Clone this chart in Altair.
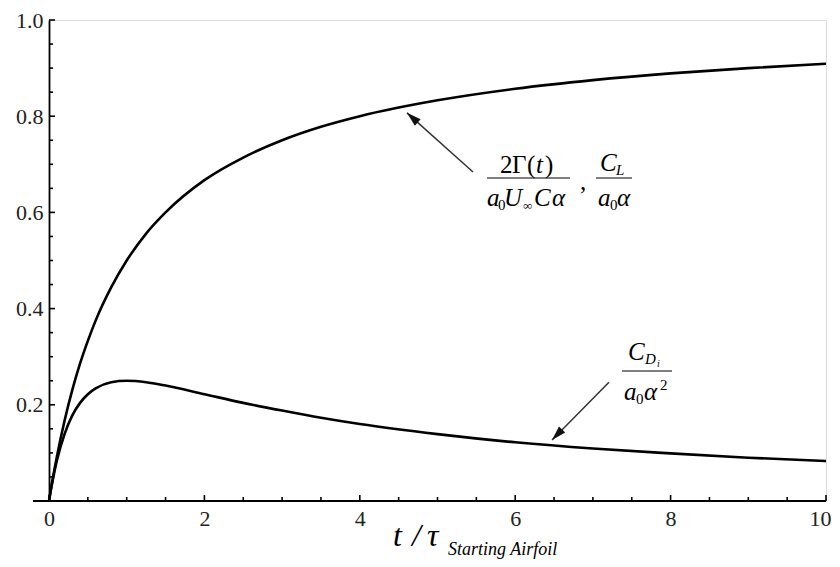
import altair as alt
import pandas as pd

# ---- data ----
t_vals = [0, 0.02, 0.05, 0.1, 0.2, 0.3, 0.4, 0.5, 0.6, 0.8, 1, 1.25, 1.5, 2, 2.5,
          3, 3.5, 4, 5, 6, 7, 8, 9, 10]
lift_vals = [0, 0.020, 0.048, 0.091, 0.167, 0.231, 0.286, 0.333, 0.375, 0.444, 0.5,
             0.556, 0.6, 0.667, 0.714, 0.75, 0.778, 0.8, 0.833, 0.857, 0.875, 0.889,
             0.9, 0.909]
drag_vals = [0, 0.019, 0.045, 0.083, 0.139, 0.178, 0.204, 0.222, 0.234, 0.247, 0.25,
             0.247, 0.24, 0.222, 0.204, 0.188, 0.173, 0.16, 0.139, 0.122, 0.109,
             0.099, 0.09, 0.083]

x_major = [0, 2, 4, 6, 8, 10]
x_minor = [0.5, 1, 1.5, 2.5, 3, 3.5, 4.5, 5, 5.5, 6.5, 7, 7.5, 8.5, 9, 9.5]
y_major = [0.2, 0.4, 0.6, 0.8, 1.0]
y_minor = [0.05, 0.1, 0.15, 0.25, 0.3, 0.35, 0.45, 0.5, 0.55, 0.65, 0.7, 0.75,
           0.85, 0.9, 0.95]

W, H = 777, 481
OX, OY = 49, 20  # page position of plot origin
FONT = "Liberation Serif"

df = pd.concat([
    pd.DataFrame({"t": t_vals, "v": lift_vals, "s": "lift"}),
    pd.DataFrame({"t": t_vals, "v": drag_vals, "s": "drag"}),
])

xs = alt.Scale(domain=[0, 10], nice=False, zero=False)
ys = alt.Scale(domain=[0, 1], nice=False)
AX = alt.Axis(values=x_major, format="d", title=None, domain=False, ticks=False, grid=False,
              labelFlush=False, labelFont=FONT, labelFontSize=22, labelColor="#222",
              labelPadding=7, labelOffset=alt.expr("datum.value == 10 ? -6 : 0"))
AY = alt.Axis(values=y_major, format=".1f", title=None, domain=True, domainColor="black",
              domainWidth=1.8, ticks=False, grid=False, labelFlush=False, labelFont=FONT,
              labelFontSize=22, labelColor="#222", labelPadding=6)

def X(f):
    return alt.X(f, scale=xs, axis=AX)

def Y(f):
    return alt.Y(f, scale=ys, axis=AY)

lines = alt.Chart(df).mark_line(color="black", strokeWidth=2.6, interpolate="monotone").encode(
    x=X("t:Q"), y=Y("v:Q"), detail="s:N")

one = pd.DataFrame({"a": [0]})

# x axis line (extends a little left of the origin)
xline = alt.Chart(one).mark_rule(color="black", strokeWidth=1.8).encode(
    x=alt.value(-16), x2=alt.value(W), y=alt.value(H))

def yticks(vals, ln):
    return alt.Chart(pd.DataFrame({"yv": vals})).mark_rule(color="black", strokeWidth=1.6).encode(
        y=Y("yv:Q"), x=alt.value(0), x2=alt.value(ln))

def xticks(vals, ln):
    return alt.Chart(pd.DataFrame({"xv": vals})).mark_rule(color="black", strokeWidth=1.6).encode(
        x=X("xv:Q"), y=alt.value(H), y2=alt.value(H - ln))

def txt(s, px, py, size=25, style="italic", align="left"):
    return alt.Chart(one).mark_text(text=s, font=FONT, fontSize=size, fontStyle=style,
                                    align=align, baseline="alphabetic", color="black").encode(
        x=alt.value(px - OX), y=alt.value(py - OY))

def bar(px1, px2, py):
    return alt.Chart(one).mark_rule(color="black", strokeWidth=1).encode(
        x=alt.value(px1 - OX), x2=alt.value(px2 - OX), y=alt.value(py - OY))

def arrow(x1, y1, x2, y2, ang):
    d = pd.DataFrame({"x": [x1], "y": [y1], "x2": [x2], "y2": [y2]})
    ln = alt.Chart(d).mark_rule(color="#333", strokeWidth=1.5).encode(
        x=X("x:Q"), y=Y("y:Q"), x2="x2:Q", y2="y2:Q")
    hd = alt.Chart(d).mark_point(shape="M0,0L-0.6,2L0.6,2Z", filled=True, opacity=1,
                                 color="#111", size=210, angle=ang).encode(
        x=X("x2:Q"), y=Y("y2:Q"))
    return [ln, hd]

ann = [
    # 2Γ(t) / a0 U∞ C α
    txt("2", 500, 173, 25, "normal"), txt("Γ", 512, 173, 25, "normal"),
    txt("(", 527, 173, 25, "normal"), txt("t", 536, 173), txt(")", 545, 173, 25, "normal"),
    bar(487, 570, 178),
    txt("a", 487, 206), txt("0", 498, 210, 15, "normal"), txt("U", 504, 206),
    txt("∞", 523, 210, 13, "normal"), txt("C", 534, 206), txt("α", 552, 206),
    txt(",", 580, 190, 25, "normal"),
    # C_L / a0 α
    txt("C", 600, 171), txt("L", 616, 175, 15),
    bar(596, 632, 178),
    txt("a", 598, 206), txt("0", 610, 210, 15, "normal"), txt("α", 617, 206),
    # C_Di / a0 α^2
    txt("C", 628, 360), txt("D", 645, 364, 15), txt("i", 657, 367, 10),
    bar(622, 672, 371),
    txt("a", 624, 400), txt("0", 636, 404, 15, "normal"), txt("α", 644, 400),
    txt("2", 660, 390, 15, "normal"),
    # axis title
    txt("t", 393, 546, 32), txt("/", 412, 546, 32), txt("τ", 427, 546, 32),
    txt("Starting Airfoil", 448, 555, 18),
]

arrows = arrow(5.457, 0.684, 4.607, 0.807, 312) + arrow(7.207, 0.247, 6.474, 0.127, 224)

chart = alt.layer(
    lines, xline,
    yticks(y_major, 6), yticks(y_minor, 4), xticks(x_major, 6), xticks(x_minor, 4),
    *arrows, *ann,
).properties(
    width=W, height=H, autosize="none",
    padding={"left": OX - 8, "top": OY - 8, "right": 6, "bottom": 58},
).configure_view(stroke="transparent").configure(background="white")

chart.save("out.html", embed_options={"renderer": "svg", "actions": False})
